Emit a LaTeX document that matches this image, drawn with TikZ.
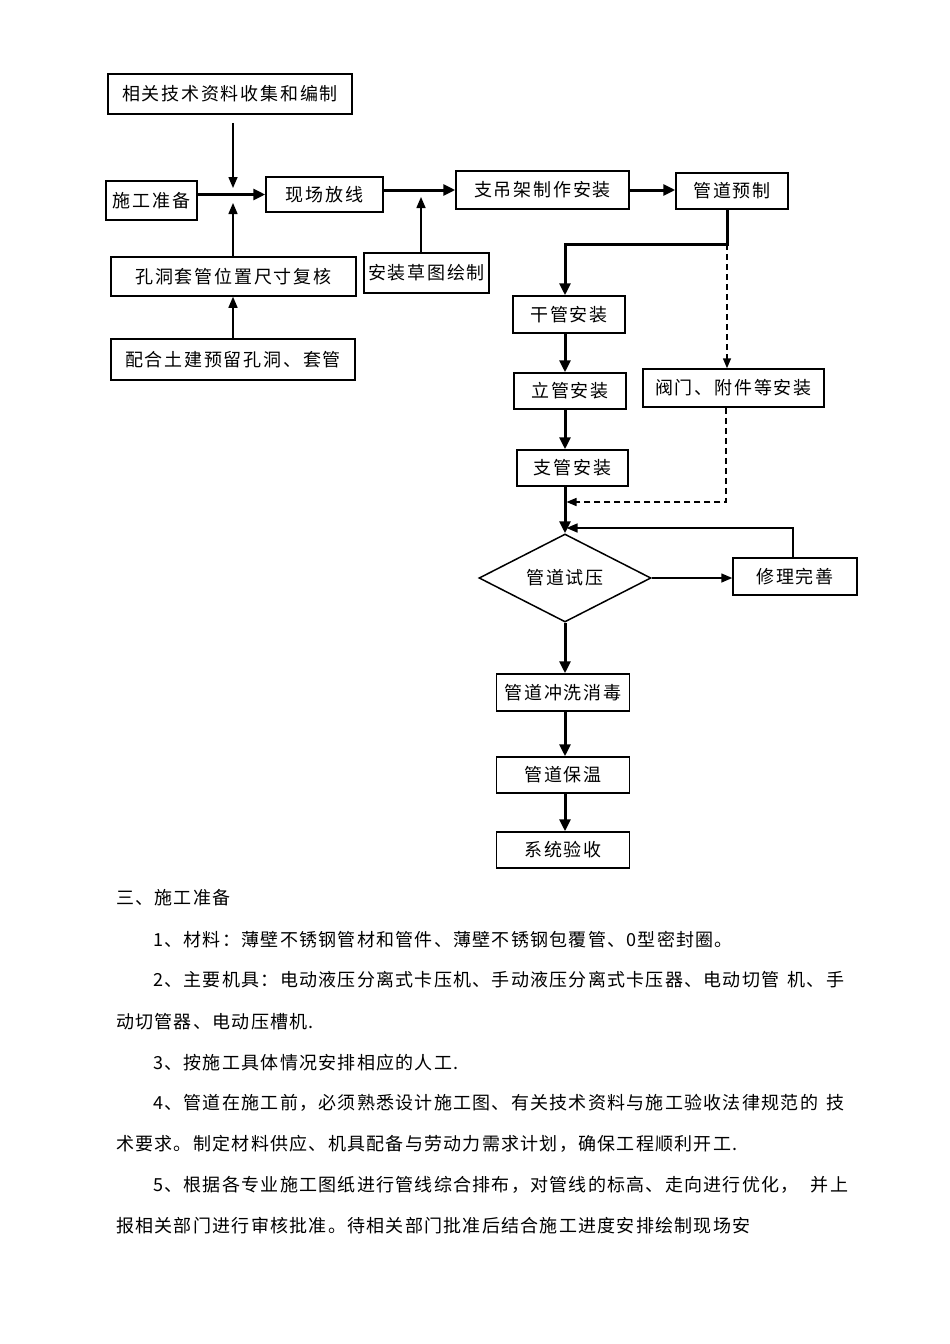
\documentclass[tikz,border=0pt]{standalone}
\usepackage{fontspec}
\setmainfont{Noto Sans CJK SC}
\newfontfamily\boxfont[LetterSpace=10]{Noto Sans CJK SC}
\newfontfamily\bodyfont[LetterSpace=7]{Noto Sans CJK SC}
\usetikzlibrary{arrows.meta}
\usetikzlibrary{shapes.geometric}

\tikzset{
  box/.style={draw,line width=1.5pt,inner sep=0pt,font=\boxfont\fontsize{18}{20}\selectfont},
  thickarr/.style={-{Triangle[length=12pt,width=11pt]},line width=3pt},
  thinarr/.style={-{Triangle[length=11pt,width=9pt]},line width=1.5pt},
  dasharr/.style={-{Triangle[length=10pt,width=8pt]},line width=1.5pt,dash pattern=on 6pt off 4pt},
  txt/.style={anchor=west,inner sep=0pt,font=\bodyfont\fontsize{18}{20}\selectfont}
}

\begin{document}
\begin{tikzpicture}[x=1pt,y=-1pt]
		\fill[white] (0,0) rectangle (950,1344);
		\useasboundingbox (0,0) rectangle (950,1344);
		% upper row
		\node[box,minimum width=244,minimum height=40] (ziliao) at (230,94) {相关技术资料收集和编制};
		\node[box,minimum width=91,minimum height=39] (zhunbei) at (151.5,200.5) {施工准备};
		\node[box,minimum width=117,minimum height=35] (fangxian) at (324.5,194.5) {现场放线};
		\node[box,minimum width=173,minimum height=38] (zhijia) at (542.5,190) {支吊架制作安装};
		\node[box,minimum width=112,minimum height=36] (yuzhi) at (732,191) {管道预制};
		\node[box,minimum width=125,minimum height=40] (caotu) at (426.5,273) {安装草图绘制};
		\node[box,minimum width=245,minimum height=39] (fuhe) at (233.5,276.5) {孔洞套管位置尺寸复核};
		\node[box,minimum width=244,minimum height=41] (yuliu) at (233,359.5) {配合土建预留孔洞、套管};
		% right column
		\node[box,minimum width=112,minimum height=37] (ganguan) at (569,314.5) {干管安装};
		\node[box,minimum width=112,minimum height=36] (liguan) at (570,391) {立管安装};
		\node[box,minimum width=181,minimum height=38] (famen) at (733.5,388) {阀门、附件等安装};
		\node[box,minimum width=111,minimum height=36] (zhiguan) at (572.5,468) {支管安装};
		\node[box,shape=diamond,minimum width=172,minimum height=88,aspect=2] (shiya) at (565,578) {管道试压};
		\node[box,minimum width=124,minimum height=37] (xiuli) at (795,576.5) {修理完善};
		\node[box,minimum width=133,minimum height=37] (chongxi) at (563,692.5) {管道冲洗消毒};
		\node[box,minimum width=133,minimum height=36] (baowen) at (563,775) {管道保温};
		\node[box,minimum width=133,minimum height=36] (yanshou) at (563,850) {系统验收};
		% joints
		\coordinate (jt) at (233,188);
		\coordinate (jb) at (233,203);
		\coordinate (jf) at (421,197);
		\coordinate (e1) at (727,244);
		\coordinate (sp) at (565,244);
		\coordinate (k1) at (726,502);
		\coordinate (m1) at (793,528);
		% connectors
		\draw[thinarr,shorten <=8pt] (ziliao.south -| jt) -- (jt);
		\draw[thinarr] (fuhe.north -| jb) -- (jb);
		\draw[thinarr] (yuliu.north -| jb) -- (fuhe.south -| jb);
		\draw[thickarr] (zhunbei.east |- fangxian.west) -- (fangxian.west);
		\draw[thickarr] (fangxian.east |- zhijia.west) -- (zhijia.west);
		\draw[thinarr] (caotu.north -| jf) -- (jf);
		\draw[thickarr] (zhijia.east) -- (zhijia.east -| yuzhi.west);
		\draw[thickarr] (yuzhi.south -| e1) -- (e1) -- (sp) -- (ganguan.north -| sp);
		\draw[dasharr] (e1) -- (famen.north -| e1);
		\draw[thickarr] (ganguan.south -| sp) -- (liguan.north -| sp);
		\draw[thickarr] (liguan.south -| sp) -- (zhiguan.north -| sp);
		\draw[thickarr] (zhiguan.south -| sp) -- (shiya.north);
		\draw[dasharr,shorten >=1.5pt] (famen.south -| k1) -- (k1) -- (k1 -| sp);
		\draw[thinarr,shorten >=1.5pt] (xiuli.north -| m1) -- (m1) -- (m1 -| sp);
		\draw[thinarr] (shiya.east) -- (shiya.east -| xiuli.west);
		\draw[thickarr] (shiya.south) -- (chongxi.north -| sp);
		\draw[thickarr] (chongxi.south -| sp) -- (baowen.north -| sp);
		\draw[thickarr] (baowen.south -| sp) -- (yanshou.north -| sp);
		% text below
		\node[txt] (t0) at (116,898) {三、施工准备};
		\node[txt] (t1) at (153,940) {1、材料：薄壁不锈钢管材和管件、薄壁不锈钢包覆管、0型密封圈。};
		\node[txt] (t2) at (153,980) {2、主要机具：电动液压分离式卡压机、手动液压分离式卡压器、电动切管\hspace{8pt}机、手};
		\node[txt] (t3) at (116,1022) {动切管器、电动压槽机.};
		\node[txt] (t4) at (153,1063) {3、按施工具体情况安排相应的人工.};
		\node[txt] (t5) at (153,1103) {4、管道在施工前，必须熟悉设计施工图、有关技术资料与施工验收法律规范的\hspace{8pt}技};
		\node[txt] (t6) at (116,1144) {术要求。制定材料供应、机具配备与劳动力需求计划，确保工程顺利开工.};
		\node[txt] (t7) at (153,1185) {5、根据各专业施工图纸进行管线综合排布，对管线的标高、走向进行优化，\hspace{12pt}并上};
		\node[txt] (t8) at (116,1226) {报相关部门进行审核批准。待相关部门批准后结合施工进度安排绘制现场安};
	\end{tikzpicture}
\end{document}
